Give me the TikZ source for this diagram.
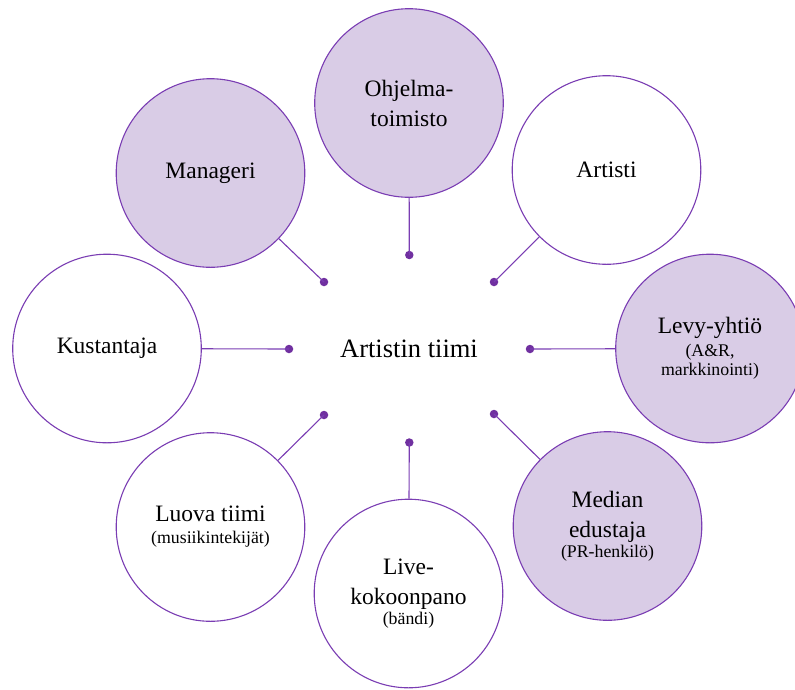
\documentclass[tikz,border=0pt]{standalone}
\usepackage{fontspec}
\setmainfont{Liberation Serif}
\definecolor{rim}{HTML}{7A3DB3}
\definecolor{knob}{HTML}{7030A0}
\definecolor{lilac}{HTML}{D9CCE6}
\tikzset{
  member/.style={circle, draw=rim, line width=1.1pt, minimum size=188.6pt,
    inner sep=0pt, align=center, text=black,
    font=\fontsize{23.5}{30}\selectfont},
  shaded/.style={member, fill=lilac},
  plain/.style={member, fill=white},
  hub/.style={circle, fill=knob, inner sep=0pt, minimum size=8.5pt},
  link/.style={draw=rim, line width=1.1pt},
}
\newcommand{\sub}[1]{{\fontsize{17.8}{20}\selectfont #1}}
\begin{document}
\begin{tikzpicture}[x=1pt,y=-1pt]
  \useasboundingbox (0,0) rectangle (795,689);
  \clip (0,0) rectangle (795,689);

  % team members round the centre
  \node[shaded] (ohj)  at (409,103)    {Ohjelma-\\toimisto};
  \node[plain]  (art)  at (606.5,170)  {Artisti};
  \node[shaded] (man)  at (210.5,173)  {Manageri};
  \node[plain]  (kus)  at (107,348.5)  {Kustantaja};
  \node[shaded] (levy) at (710,348.5)  {Levy-yhtiö\\[-7pt]\sub{(A\&R,}\\[-11pt]\sub{markkinointi)}};
  \node[shaded] (med)  at (607.5,526)  {Median\\edustaja\\[-10pt]\sub{(PR-henkilö)}};
  \node[plain]  (luo)  at (210.5,527)  {Luova tiimi\\[-8pt]\sub{(musiikintekijät)}};
  \node[plain]  (live) at (408.5,593.5){Live-\\kokoonpano\\[-10pt]\sub{(bändi)}};

  % centre label
  \node[font=\fontsize{26.5}{30}\selectfont] (team) at (409,349) {Artistin tiimi};

  % connector end points
  \node[hub] (hohj)  at (409.3,255) {};
  \node[hub] (hart)  at (494,282)   {};
  \node[hub] (hman)  at (324,282)   {};
  \node[hub] (hkus)  at (289,349)   {};
  \node[hub] (hlevy) at (530,349)   {};
  \node[hub] (hmed)  at (494,414)   {};
  \node[hub] (hluo)  at (324,415)   {};
  \node[hub] (hlive) at (409.3,442.5) {};

  \foreach \h/\m in {hohj/ohj, hart/art, hman/man, hkus/kus,
                     hlevy/levy, hmed/med, hluo/luo, hlive/live}
    \draw[link] (\h.center) -- (\m);
\end{tikzpicture}
\end{document}
